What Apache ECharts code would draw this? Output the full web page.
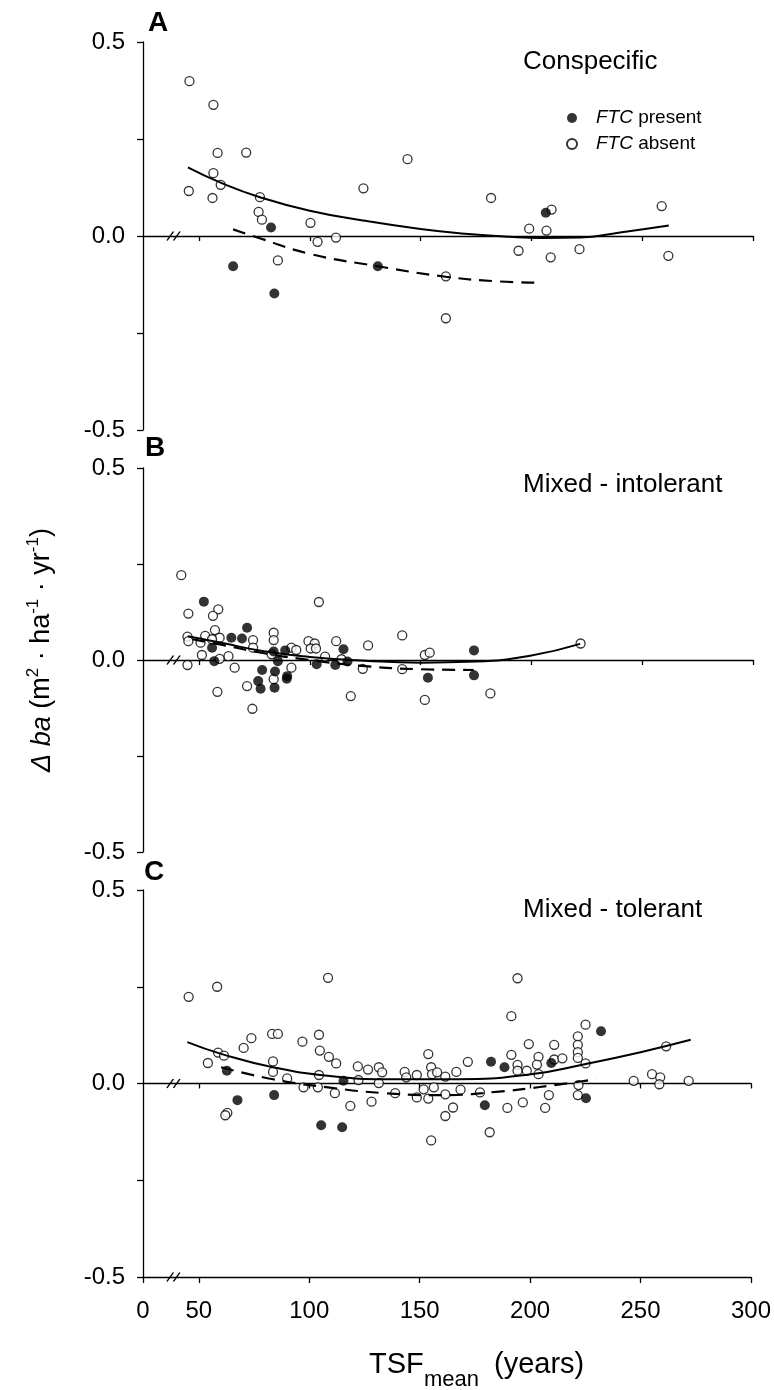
<!DOCTYPE html>
<html><head><meta charset="utf-8">
<script src="https://cdn.jsdelivr.net/npm/echarts@6/dist/echarts.min.js"></script>
<style>html,body{margin:0;padding:0;background:#fff}#c{width:774px;height:1390px}</style>
</head><body><div id="c"></div>
<script>
// ---------- axis values ----------
const X_MIN = 24.73;           // left end of the broken x axis, labelled "0"
const X_MAX = 300;
const xTickValues = [50, 100, 150, 200, 250, 300];
const xLabelValues = [X_MIN, 50, 100, 150, 200, 250, 300];
const xLabelTexts = ['0', '50', '100', '150', '200', '250', '300'];
const yLabelValues = [-0.5, 0, 0.5];
const breakX = 38.5;
const panelLetters = ['A', 'B', 'C'];
const panelTitles = ['Conspecific', 'Mixed - intolerant', 'Mixed - tolerant'];
const legendNames = ['FTC present', 'FTC absent'];

// ---------- Panel A : Conspecific ----------
const aAbsent = [[45.7,0.399],[56.5,0.338],[58.4,0.214],[71.3,0.215],[144.1,0.198],[56.5,0.162],[45.4,0.116],[59.8,0.132],[56.1,0.098],[124.2,0.123],[77.5,0.100],[181.8,0.098],[258.8,0.077],[209.1,0.068],[76.9,0.062],[78.4,0.042],[100.3,0.034],[199.0,0.019],[206.8,0.014],[111.8,-0.004],[103.5,-0.015],[194.2,-0.038],[221.7,-0.034],[208.7,-0.055],[261.8,-0.051],[85.6,-0.063],[161.4,-0.104],[161.4,-0.212]];
const aPresent = [[82.5,0.022],[206.5,0.060],[65.4,-0.078],[130.7,-0.078],[84.0,-0.148]];
const aFitAbsent = [[45,0.177],[60,0.137],[77.5,0.100],[100,0.065],[124,0.040],[150,0.018],[170,0.006],[190,-0.002],[205,-0.005],[222,-0.004],[240,0.009],[262,0.027]];
const aFitPresent = [[65.4,0.017],[77,-0.005],[100,-0.046],[130.7,-0.078],[161.4,-0.105],[185,-0.117],[202,-0.120]];

// ---------- Panel B : Mixed - intolerant ----------
const bAbsent = [[42.0,0.221],[104.1,0.151],[45.2,0.121],[58.7,0.132],[56.3,0.115],[57.2,0.078],[44.8,0.061],[45.2,0.049],[52.8,0.063],[50.7,0.045],[59.3,0.058],[55.9,0.054],[74.4,0.052],[74.4,0.032],[83.7,0.071],[83.7,0.052],[91.7,0.032],[93.9,0.026],[99.4,0.049],[102.2,0.043],[100.4,0.030],[102.8,0.030],[111.9,0.049],[106.9,0.009],[126.3,0.038],[141.7,0.064],[151.9,0.013],[154.1,0.019],[222.2,0.043],[51.3,0.013],[63.3,0.010],[59.3,0.003],[44.8,-0.013],[66.1,-0.020],[91.7,-0.020],[83.7,-0.050],[58.3,-0.083],[71.7,-0.068],[74.1,-0.127],[118.5,-0.094],[123.9,-0.023],[141.7,-0.024],[151.9,-0.104],[181.5,-0.087],[114.3,0.002],[82.8,0.015]];
const bPresent = [[52.2,0.152],[71.7,0.084],[64.6,0.058],[69.4,0.056],[55.9,0.032],[56.9,-0.003],[83.7,0.022],[88.9,0.025],[85.6,-0.003],[115.2,0.028],[117.0,-0.004],[103.1,-0.011],[78.5,-0.026],[76.7,-0.055],[77.8,-0.075],[84.1,-0.072],[84.3,-0.030],[89.8,-0.042],[89.6,-0.049],[174.1,0.025],[174.1,-0.040],[153.3,-0.046],[111.5,-0.013]];
const bFitAbsent = [[45,0.062],[60,0.045],[80,0.022],[100,0.008],[125,-0.002],[150,-0.007],[175,-0.004],[200,0.012],[222,0.042]];
const bFitPresent = [[47,0.054],[60,0.040],[80,0.017],[100,0.000],[125,-0.016],[150,-0.024],[174,-0.026]];

// ---------- Panel C : Mixed - tolerant ----------
const cAbsent = [[45.4,0.224],[58.3,0.250],[108.5,0.273],[194.3,0.272],[191.5,0.174],[225.1,0.152],[221.6,0.122],[221.6,0.100],[221.6,0.081],[221.6,0.066],[225.1,0.052],[261.6,0.096],[73.8,0.117],[70.3,0.092],[54.1,0.053],[58.7,0.080],[61.4,0.072],[83.2,0.128],[85.8,0.128],[83.6,0.057],[83.6,0.030],[90.0,0.013],[96.9,0.108],[104.4,0.126],[104.8,0.085],[108.9,0.069],[112.2,0.052],[104.4,0.022],[97.4,-0.010],[103.9,-0.010],[111.6,-0.025],[118.6,-0.058],[122.0,0.044],[122.3,0.009],[126.6,0.036],[131.5,0.042],[133.0,0.029],[131.5,0.001],[128.2,-0.047],[138.9,-0.025],[143.2,0.030],[143.9,0.016],[148.7,0.022],[153.9,0.076],[155.2,0.042],[155.6,0.024],[157.9,0.029],[161.6,0.018],[166.6,0.030],[171.8,0.056],[151.8,-0.015],[156.4,-0.010],[161.6,-0.028],[168.5,-0.016],[148.7,-0.036],[153.9,-0.039],[165.1,-0.062],[161.6,-0.084],[155.2,-0.147],[177.3,-0.023],[181.7,-0.126],[191.5,0.074],[194.3,0.048],[194.3,0.033],[198.5,0.033],[199.4,0.102],[203.8,0.069],[203.1,0.049],[203.8,0.024],[210.9,0.100],[210.9,0.062],[214.6,0.065],[189.7,-0.063],[196.7,-0.049],[206.8,-0.063],[208.5,-0.030],[221.9,-0.004],[221.6,-0.030],[62.9,-0.076],[62.0,-0.082],[246.9,0.007],[255.2,0.024],[258.9,0.016],[258.5,-0.002],[271.8,0.007]];
const cPresent = [[62.7,0.033],[67.5,-0.043],[84.1,-0.030],[115.5,0.007],[105.4,-0.108],[114.9,-0.113],[182.3,0.056],[188.4,0.042],[209.6,0.053],[232.1,0.135],[225.3,-0.038],[179.5,-0.056]];
const cFitAbsent = [[44.8,0.107],[60.5,0.076],[83.6,0.042],[108.5,0.020],[134.3,0.011],[167.5,0.011],[200.4,0.024],[224.7,0.050],[250,0.081],[272.7,0.113]];
const cFitPresent = [[60.1,0.042],[83.6,0.011],[108.5,-0.010],[134.3,-0.025],[160.1,-0.030],[185.9,-0.021],[204.4,-0.009],[229.9,0.011]];

const panels = [
  {absent: aAbsent, present: aPresent, fitAbsent: aFitAbsent, fitPresent: aFitPresent},
  {absent: bAbsent, present: bPresent, fitAbsent: bFitAbsent, fitPresent: bFitPresent},
  {absent: cAbsent, present: cPresent, fitAbsent: cFitAbsent, fitPresent: cFitPresent}
];

// ---------- layout / style ----------
const FONT = '"Liberation Sans", Arial, sans-serif';
const BLACK = '#000';
const AX = {color: BLACK, width: 1.3};
const grids = [
  {left: 143, width: 610, top: 42, height: 388},
  {left: 143, width: 610, top: 468, height: 384},
  {left: 143, width: 610, top: 890, height: 387}
];
const letterPos = [{left: 148, top: 9}, {left: 145, top: 434}, {left: 144, top: 858}];
const titleTops = [48, 471, 896];

const xAxes = [];
const yAxes = [];
for (let i = 0; i < 3; i++) {
  xAxes.push({
    gridIndex: i, type: 'value', min: X_MIN, max: X_MAX,
    position: i === 2 ? 'top' : 'bottom',
    axisLine: {show: true, onZero: true, lineStyle: AX},
    axisTick: {show: true, inside: i === 2, length: 5, customValues: xTickValues, lineStyle: AX},
    axisLabel: {show: false},
    splitLine: {show: false}
  });
  yAxes.push({
    gridIndex: i, type: 'value', min: -0.5, max: 0.5, interval: 0.25,
    axisLine: {show: true, onZero: false, lineStyle: AX},
    axisTick: {show: true, length: 6, lineStyle: AX},
    axisLabel: {
      fontSize: 24, fontFamily: FONT, color: BLACK, margin: 18,
      formatter: v => yLabelValues.some(t => Math.abs(t - v) < 1e-9) ? v.toFixed(1) : ''
    },
    splitLine: {show: false}
  });
}
// bottom x axis of panel C with labels
xAxes.push({
  gridIndex: 2, type: 'value', min: X_MIN, max: X_MAX, position: 'bottom',
  axisLine: {show: true, onZero: false, lineStyle: AX},
  axisTick: {show: true, length: 6, customValues: xLabelValues, lineStyle: AX},
  axisLabel: {
    show: true, customValues: xLabelValues, fontSize: 24, fontFamily: FONT, color: BLACK, margin: 22,
    formatter: v => xLabelTexts[xLabelValues.findIndex(t => Math.abs(t - v) < 1e-6)]
  },
  splitLine: {show: false}
});

const breakSymbol = {
  symbol: 'path://M0 12 L6 0 M6 12 L12 0',
  symbolSize: [13, 9],
  itemStyle: {color: 'none', borderColor: BLACK, borderWidth: 1.2},
  label: {show: false},
  silent: true
};

const series = [];
panels.forEach((p, i) => {
  const breaks = [{coord: [breakX, 0]}];
  if (i === 2) breaks.push({coord: [breakX, -0.5]});
  series.push({
    type: 'scatter', name: legendNames[1], xAxisIndex: i, yAxisIndex: i,
    data: p.absent, symbol: 'circle', symbolSize: 9, z: 3,
    itemStyle: {color: '#fff', borderColor: BLACK, borderWidth: 1.3},
    markPoint: Object.assign({data: breaks}, breakSymbol)
  });
  series.push({
    type: 'scatter', name: legendNames[0], xAxisIndex: i, yAxisIndex: i,
    data: p.present, symbol: 'circle', symbolSize: 10, z: 4,
    itemStyle: {color: BLACK}
  });
  series.push({
    type: 'line', name: 'fit-absent-' + i, xAxisIndex: i, yAxisIndex: i,
    data: p.fitAbsent, showSymbol: false, symbol: 'none', smooth: 0.5, z: 5, silent: true,
    lineStyle: {color: BLACK, width: 2}
  });
  series.push({
    type: 'line', name: 'fit-present-' + i, xAxisIndex: i, yAxisIndex: i,
    data: p.fitPresent, showSymbol: false, symbol: 'none', smooth: 0.5, z: 5, silent: true,
    lineStyle: {color: BLACK, width: 2.2, type: [13, 8]}
  });
});

const titles = [];
panelLetters.forEach((t, i) => titles.push({
  text: t, left: letterPos[i].left, top: letterPos[i].top, padding: 0,
  textStyle: {fontSize: 28, fontWeight: 'bold', fontFamily: FONT, color: BLACK, lineHeight: 28}
}));
panelTitles.forEach((t, i) => titles.push({
  text: t, left: 523, top: titleTops[i], padding: 0,
  textStyle: {fontSize: 26, fontWeight: 'normal', fontFamily: FONT, color: BLACK, lineHeight: 28}
}));

const chart = echarts.init(document.getElementById('c'), null, {renderer: 'canvas'});
chart.setOption({
  animation: false,
  backgroundColor: '#fff',
  title: titles,
  grid: grids,
  xAxis: xAxes,
  yAxis: yAxes,
  legend: {
    data: legendNames.map(n => ({name: n, icon: 'circle'})),
    orient: 'vertical', left: 561, top: 103,
    itemWidth: 30, itemHeight: 10, itemGap: 6, selectedMode: false,
    formatter: n => n.replace('FTC', '{i|FTC}'),
    textStyle: {
      fontSize: 19, fontFamily: FONT, color: BLACK, lineHeight: 20, padding: [0, 0, 0, 4],
      rich: {i: {fontStyle: 'italic', fontSize: 19, fontFamily: FONT, color: BLACK}}
    }
  },
  graphic: [
    {
      type: 'text', x: 42, y: 650, rotation: Math.PI / 2, silent: true,
      style: {
        text: '{i|Δ ba} (m{s|2} · ha{s|-1} · yr{s|-1})',
        fontSize: 27, fontFamily: FONT, fill: BLACK, align: 'center', verticalAlign: 'middle',
        rich: {
          i: {fontStyle: 'italic', fontSize: 27, fontFamily: FONT, fill: BLACK, lineHeight: 34},
          s: {fontSize: 17, fontFamily: FONT, fill: BLACK, verticalAlign: 'top', lineHeight: 17}
        },
        lineHeight: 34
      }
    },
    {type: 'text', x: 369, y: 1365, silent: true,
     style: {text: 'TSF', fontSize: 29, fontFamily: FONT, fill: BLACK, align: 'left', verticalAlign: 'middle'}},
    {type: 'text', x: 424, y: 1380, silent: true,
     style: {text: 'mean', fontSize: 22, fontFamily: FONT, fill: BLACK, align: 'left', verticalAlign: 'middle'}},
    {type: 'text', x: 494, y: 1365, silent: true,
     style: {text: '(years)', fontSize: 29, fontFamily: FONT, fill: BLACK, align: 'left', verticalAlign: 'middle'}}
  ],
  series: series
});
</script>
</body></html>
